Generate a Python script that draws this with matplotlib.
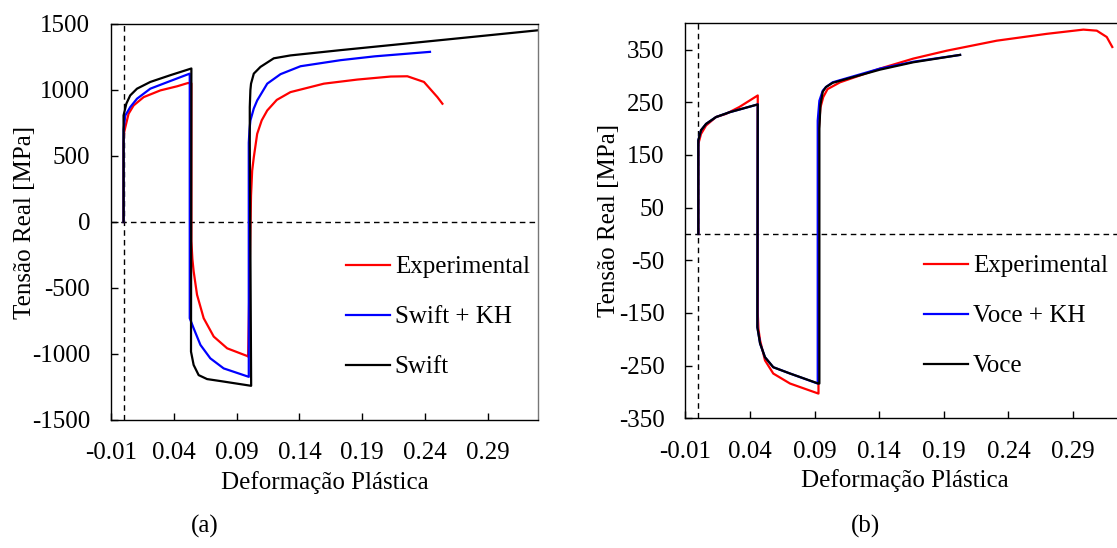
import matplotlib
matplotlib.use("Agg")
import matplotlib.pyplot as plt

plt.rcParams['font.family'] = ['Liberation Serif', 'DejaVu Serif']
plt.rcParams['axes.unicode_minus'] = False

# ---- (a) Swift ----
exp_a_eps = [0, 0, 0.0005, 0.0014, 0.004, 0.008, 0.016, 0.0293, 0.0426, 0.0513,
             0.054, 0.054, 0.0548, 0.0558, 0.0585, 0.0638, 0.0718, 0.0825, 0.0984, 0.0992,
             0.1015, 0.1024, 0.1037, 0.1064, 0.11, 0.1144, 0.122, 0.1329, 0.1595, 0.1861,
             0.2127, 0.226, 0.2392, 0.2499, 0.2539]
exp_a_sig = [0, 600, 680, 718, 820, 883, 946, 997, 1028, 1053,
             1050, -145, -280, -373, -551, -729, -868, -957, -1015, -1020,
             200, 388, 490, 668, 770, 845, 925, 984, 1048, 1079,
             1102, 1104, 1061, 946, 896]

kh_a_eps = [0, 0, 0.0014, 0.0053, 0.0107, 0.0213, 0.0372, 0.0527,
            0.0527, 0.0558, 0.0612, 0.0691, 0.0797, 0.0997,
            0.0997, 0.1003, 0.101, 0.1037, 0.1064, 0.1144, 0.125, 0.1409, 0.1728, 0.2, 0.244]
kh_a_sig = [0, 700, 807, 870, 934, 1010, 1068, 1124,
            -729, -805, -931, -1033, -1109, -1173,
            600, 700, 769, 860, 921, 1048, 1120, 1180, 1226, 1255, 1289]

sw_a_eps = [0, 0, 0.0022, 0.0053, 0.0107, 0.0213, 0.0372, 0.054,
            0.0537, 0.0558, 0.0598, 0.0665, 0.0771, 0.1016,
            0.1005, 0.1005, 0.101, 0.1015, 0.1037, 0.109, 0.1196, 0.1329, 0.1728, 0.2526, 0.3317]
sw_a_sig = [0, 807, 896, 959, 1010, 1061, 1112, 1163,
            -982, -1083, -1160, -1190, -1205, -1241,
            600, 870, 1000, 1048, 1124, 1175, 1240, 1262, 1302, 1378, 1454]

# ---- (b) Voce ----
exp_b_eps = [0, 0, 0.0021, 0.006, 0.0137, 0.0214, 0.0317, 0.046,
             0.046, 0.0465, 0.0478, 0.0516, 0.058, 0.071, 0.0929,
             0.093, 0.093, 0.0945, 0.0967, 0.1, 0.1097, 0.1406, 0.1664, 0.1923, 0.231,
             0.2697, 0.298, 0.3084, 0.3161, 0.3204]
exp_b_sig = [0, 171, 190, 206, 222, 228, 241, 263,
             -150, -180, -202, -240, -265, -284, -303,
             -303, 190, 240, 260, 275, 288, 314, 333, 348, 367,
             380, 388, 386, 374, 355]

kh_b_eps = [0, 0, 0.0021, 0.006, 0.0137, 0.024, 0.046,
            0.0457, 0.0478, 0.0516, 0.058, 0.071, 0.0924,
            0.0924, 0.0937, 0.0963, 0.0988, 0.104, 0.1406, 0.1664, 0.2026]
kh_b_sig = [0, 178, 197, 209, 222, 231, 246,
            -177, -208, -234, -253, -265, -284,
            215, 253, 272, 279, 288, 314, 327, 340]

voce_b_eps = [0, 0, 0.0021, 0.006, 0.0137, 0.024, 0.046,
              0.0457, 0.0478, 0.0516, 0.058, 0.071, 0.0929,
              0.0937, 0.0937, 0.0945, 0.0963, 0.0988, 0.104, 0.1406, 0.1664, 0.2026]
voce_b_sig = [0, 178, 197, 209, 222, 231, 246,
              -177, -208, -234, -253, -265, -284,
              -284, 200, 245, 270, 279, 287, 312, 326, 340]

x_ticks = [-0.01, 0.04, 0.09, 0.14, 0.19, 0.24, 0.29]
y_ticks_a = [-1500, -1000, -500, 0, 500, 1000, 1500]
y_ticks_b = [-350, -250, -150, -50, 50, 150, 250, 350]

fig = plt.figure(figsize=(11.17, 5.48), dpi=100)
W, H = 1117.0, 548.0

ax1 = fig.add_axes([111 / W, 1 - 420 / H, 427 / W, 396 / H])
ax2 = fig.add_axes([685.4 / W, 1 - 418.3 / H, 439.3 / W, 395 / H])


def style(ax, yticks, ylim, ylx):
    ax.axhline(0, color='black', lw=1, ls=(0, (4, 3)), zorder=1)
    ax.axvline(0, color='black', lw=1, ls=(0, (4, 3)), zorder=1)
    ax.set_xlim(-0.01, 0.33)
    ax.set_ylim(*ylim)
    ax.set_xticks(x_ticks)
    ax.set_xticklabels(['%.2f' % t for t in x_ticks])
    ax.set_yticks(yticks)
    ax.set_yticklabels([str(t) for t in yticks])
    ax.tick_params(direction='in', length=5, width=1, labelsize=18)
    ax.tick_params(axis='y', pad=15)
    ax.tick_params(axis='x', pad=16)
    ax.set_xlabel('Deformação Plástica', fontsize=18, labelpad=5)
    ax.set_ylabel('Tensão Real [MPa]', fontsize=18)
    ax.yaxis.set_label_coords(ylx, 0.5)
    for s in ax.spines.values():
        s.set_linewidth(1)


style(ax1, y_ticks_a, (-1500, 1500), -0.175)
style(ax2, y_ticks_b, (-350, 400), -0.15)
ax1.spines['right'].set_color('#777777')

ax1.plot(exp_a_eps, exp_a_sig, color='red', lw=1.6, label='Experimental')
ax1.plot(kh_a_eps, kh_a_sig, color='blue', lw=1.6, label='Swift + KH')
ax1.plot(sw_a_eps, sw_a_sig, color='black', lw=1.6, label='Swift')

ax2.plot(exp_b_eps, exp_b_sig, color='red', lw=1.6, label='Experimental')
ax2.plot(kh_b_eps, kh_b_sig, color='blue', lw=1.6, label='Voce + KH')
ax2.plot(voce_b_eps, voce_b_sig, color='black', lw=1.6, label='Voce')

for ax, lx, ly in [(ax1, 346, 317), (ax2, 924, 316)]:
    ax.legend(loc='center left', bbox_to_anchor=(lx / W, 1 - ly / H),
              bbox_transform=fig.transFigure, frameon=False, fontsize=18,
              handlelength=1.75, handletextpad=0.2, labelspacing=1.1,
              borderpad=0, borderaxespad=0)

fig.text(205 / W, 1 - 526 / H, '(a)', fontsize=18, ha='center', va='center')
fig.text(866 / W, 1 - 526 / H, '(b)', fontsize=18, ha='center', va='center')

fig.savefig('out.png', dpi=100)
